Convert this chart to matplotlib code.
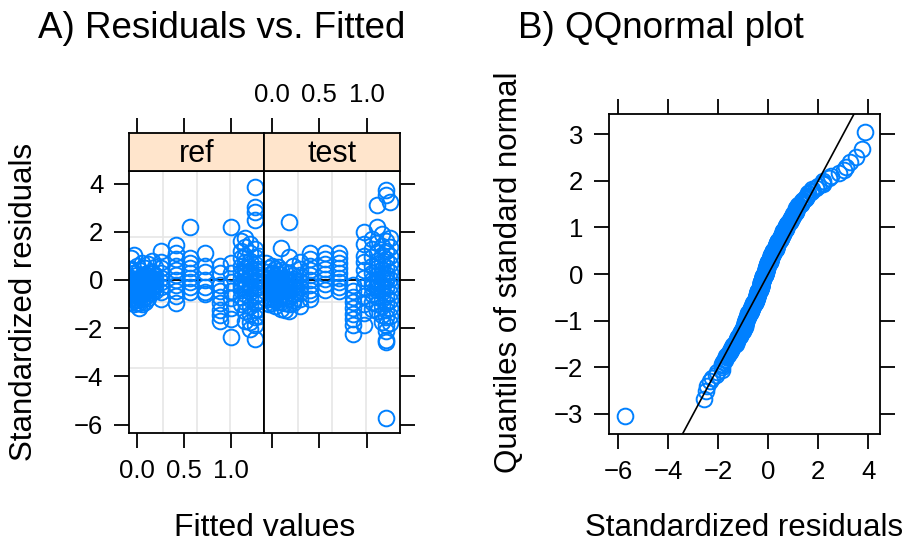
import numpy as np
import matplotlib.pyplot as plt
from statistics import NormalDist

plt.rcParams['font.family'] = ['Liberation Sans', 'DejaVu Sans']

# Fitted-value columns for each treatment and the standardized residuals found at each
ref_fitted = [-0.06, -0.03, 0.00, 0.03, 0.06, 0.09, 0.12, 0.16, 0.20,
              0.26, 0.42, 0.56, 0.72, 0.88, 1.00, 1.10, 1.15, 1.20, 1.25, 1.29]
ref_resid = [
    [0.9, 0.45, 0.1, -0.05, -0.15, -0.25, -0.35, -0.45, -0.55, -0.75, -0.9],
    [1.05, 0.3, 0.0, -0.1, -0.2, -0.3, -0.4, -0.6, -0.8, -1.0],
    [0.6, 0.2, 0.05, -0.05, -0.15, -0.25, -0.35, -0.45, -0.65, -0.85, -0.95],
    [0.4, 0.1, -0.1, -0.2, -0.3, -0.4, -0.5, -0.7, -0.95, -1.15],
    [0.7, 0.15, 0.05, -0.05, -0.2, -0.3, -0.4, -0.6, -0.8, -0.98],
    [0.5, 0.25, 0.0, -0.15, -0.3, -0.4, -0.5, -0.7, -0.9],
    [0.65, 0.3, 0.05, -0.05, -0.15, -0.25, -0.35, -0.55, -0.75],
    [0.8, 0.35, 0.1, -0.1, -0.2, -0.3, -0.4, -0.5],
    [0.55, 0.2, 0.05, -0.05, -0.15, -0.25, -0.45],
    [1.2, 0.75, 0.5, 0.3, 0.1, -0.1, -0.3, -0.5, -0.8],
    [1.45, 1.1, 0.85, 0.6, 0.4, 0.2, 0.0, -0.2, -0.45, -0.65, -0.95],
    [2.2, 0.9, 0.7, 0.5, 0.3, 0.1, -0.1, -0.3, -0.5],
    [1.1, 0.6, 0.35, 0.0, -0.3, -0.5, -0.6],
    [0.6, 0.3, -0.2, -0.45, -0.7, -0.95, -1.25, -1.45, -1.7],
    [2.19, 0.7, 0.3, -0.1, -0.45, -0.75, -1.15, -1.6, -2.35],
    [1.6, 1.2, 0.9, 0.6, 0.35, 0.1, -0.15, -0.3, -0.4, -0.7, -1.0],
    [1.75, 1.35, 1.0, 0.75, 0.5, 0.35, 0.2, -0.05, -0.15, -0.3, -0.6, -0.9, -1.3, -1.7],
    [1.5, 1.1, 0.8, 0.55, 0.3, 0.15, 0.05, -0.2, -0.35, -0.5, -0.8, -1.1, -1.4, -1.75, -2.05],
    [3.85, 3.04, 2.83, 2.49, 1.3, 0.95, 0.65, 0.4, 0.15, 0.0, -0.1, -0.35, -0.65,
     -0.95, -1.25, -1.55, -1.85, -2.46],
    [1.0, 0.7, 0.45, 0.2, -0.05, -0.3, -0.55, -0.85, -1.2, -1.5],
]

test_fitted = [-0.06, -0.03, 0.00, 0.03, 0.06, 0.10, 0.14, 0.18, 0.22,
               0.30, 0.40, 0.56, 0.71, 0.85, 0.97, 1.06, 1.11, 1.16, 1.20, 1.24]
test_resid = [
    [0.7, 0.35, 0.05, -0.1, -0.2, -0.3, -0.45, -0.7, -0.95],
    [0.5, 0.2, 0.1, -0.05, -0.15, -0.3, -0.4, -0.55, -0.8, -1.0],
    [0.6, 0.3, 0.0, -0.1, -0.25, -0.35, -0.5, -0.75, -0.97],
    [0.45, 0.15, 0.05, -0.1, -0.2, -0.35, -0.45, -0.6, -0.85, -1.1],
    [0.55, 0.25, -0.05, -0.15, -0.3, -0.4, -0.55, -0.8, -0.92],
    [1.31, 0.4, 0.1, 0.0, -0.15, -0.25, -0.4, -0.65, -0.9, -1.2],
    [0.35, 0.05, -0.05, -0.2, -0.3, -0.45, -0.7, -0.95, -1.25],
    [2.42, 0.97, 0.3, 0.0, -0.1, -0.25, -0.4, -0.5, -0.75, -1.0, -1.3],
    [0.6, 0.2, 0.05, -0.1, -0.2, -0.35, -0.6, -0.85, -0.95],
    [0.75, 0.45, 0.2, -0.05, -0.3, -0.55, -0.8, -1.08],
    [1.1, 0.85, 0.6, 0.4, 0.2, 0.0, -0.2, -0.4, -0.6, -0.8],
    [1.1, 0.85, 0.65, 0.45, 0.25, 0.05, -0.15, -0.4],
    [1.1, 0.9, 0.7, 0.5, 0.3, 0.1, -0.1, -0.3, -0.45],
    [-0.2, -0.45, -0.7, -0.9, -1.15, -1.4, -1.6, -1.85, -2.24],
    [2.0, 1.5, 1.0, 0.75, 0.4, 0.1, -0.3, -0.65, -1.0, -1.35, -1.87],
    [1.7, 1.3, 0.95, 0.6, 0.3, 0.0, -0.15, -0.3, -0.6, -0.9, -1.2],
    [3.11, 2.2, 1.55, 1.15, 0.8, 0.5, 0.2, 0.05, -0.1, -0.25, -0.4, -0.7, -1.0, -1.3],
    [1.9, 1.4, 1.05, 0.7, 0.4, 0.25, 0.1, -0.2, -0.35, -0.5, -0.8, -1.1, -1.45, -1.75],
    [3.73, 3.52, 1.6, 1.2, 0.85, 0.55, 0.25, 0.1, -0.05, -0.35, -0.65, -0.95, -1.25,
     -1.55, -1.85, -2.1, -2.5, -2.56, -5.74],
    [3.25, 1.75, 1.35, 1.0, 0.65, 0.35, 0.05, -0.25, -0.55, -0.85, -1.15, -1.5, -1.8],
]

panel_names = ['ref', 'test']
fit_ticks = [0.0, 0.5, 1.0]
fit_ticklabels = ['0.0', '0.5', '1.0']
res_ticks = [-6, -4, -2, 0, 2, 4]
qq_xticks = [-6, -4, -2, 0, 2, 4]
qq_yticks = [-3, -2, -1, 0, 1, 2, 3]

PT_COL = '#0080ff'
STRIP_COL = '#ffe5cc'
GRID_COL = '#e6e6e6'
W, H = 909, 544
LW = 1.3


def flatten(fitted, resid):
    x = np.concatenate([[f] * len(r) for f, r in zip(fitted, resid)])
    y = np.concatenate([np.asarray(r, float) for r in resid])
    return x, y


def box(x0, y0, x1, y1):
    # pixel box (top-left origin) -> figure fraction rect
    return [x0 / W, 1 - y1 / H, (x1 - x0) / W, (y1 - y0) / H]


ref_x, ref_y = flatten(ref_fitted, ref_resid)
test_x, test_y = flatten(test_fitted, test_resid)

fig = plt.figure(figsize=(9.09, 5.44), dpi=100)

tick_kw = dict(direction='out', length=10.5, width=LW, labelsize=18.5, pad=8)
mark_kw = dict(linestyle='none', marker='o', mfc='none', mec=PT_COL, ms=11.3, mew=1.4)
xlim = (-0.08, 1.35)
ylim = (-6.36, 4.52)

ax_ref = fig.add_axes(box(129, 171, 264.3, 433.3))
ax_test = fig.add_axes(box(264.3, 171, 400, 433.3))
st_ref = fig.add_axes(box(129, 132.7, 264.3, 171))
st_test = fig.add_axes(box(264.3, 132.7, 400, 171))

for ax, st, name, (px, py) in zip([ax_ref, ax_test], [st_ref, st_test], panel_names,
                                  [(ref_x, ref_y), (test_x, test_y)]):
    ax.set_xlim(*xlim)
    ax.set_ylim(*ylim)
    # quarter-spaced reference grid
    for v in np.linspace(xlim[0], xlim[1], 5)[1:-1]:
        ax.axvline(v, color=GRID_COL, lw=1.2, zorder=0)
    for h in np.linspace(ylim[0], ylim[1], 5)[1:-1]:
        ax.axhline(h, color=GRID_COL, lw=1.2, zorder=0)
    ax.axhline(0, color='black', lw=LW, zorder=1)
    ax.plot(px, py, zorder=2, **mark_kw)
    ax.set_xticks(fit_ticks)
    ax.set_xticklabels(fit_ticklabels)
    ax.set_yticks(res_ticks)
    ax.tick_params(**tick_kw)
    for s in ax.spines.values():
        s.set_linewidth(LW)

    st.set_facecolor(STRIP_COL)
    st.set_xlim(*xlim)
    st.set_ylim(0, 1)
    st.set_xticks(fit_ticks)
    st.set_xticklabels(fit_ticklabels)
    st.set_yticks([])
    st.tick_params(**tick_kw)
    st.text(0.5, 0.45, name, transform=st.transAxes, ha='center', va='center',
            fontsize=22)
    for s in st.spines.values():
        s.set_linewidth(LW)

# alternating axis annotation, lattice style
ax_ref.tick_params(axis='x', bottom=True, labelbottom=True, top=False, labeltop=False)
ax_ref.tick_params(axis='y', left=True, labelleft=True, right=False, labelright=False)
ax_test.tick_params(axis='x', bottom=True, labelbottom=False, top=False, labeltop=False)
ax_test.tick_params(axis='y', left=False, labelleft=False, right=True, labelright=False)
st_ref.tick_params(axis='x', bottom=False, labelbottom=False, top=True, labeltop=False)
st_test.tick_params(axis='x', bottom=False, labelbottom=False, top=True, labeltop=True)

# QQ normal plot of all standardized residuals
all_res = np.sort(np.concatenate([ref_y, test_y]))
n = len(all_res)
nd = NormalDist()
theo = np.array([nd.inv_cdf((i + 0.5) / n) for i in range(n)])

ax_qq = fig.add_axes(box(609, 114, 880, 434))
ax_qq.set_xlim(-6.37, 4.47)
ax_qq.set_ylim(-3.43, 3.43)
ax_qq.plot(all_res, theo, **mark_kw)
ax_qq.axline((0, 0), slope=1, color='black', lw=1.2)
ax_qq.set_xticks(qq_xticks)
ax_qq.set_yticks(qq_yticks)
ax_qq.tick_params(**tick_kw)
ax_qq.tick_params(top=True, right=True, labeltop=False, labelright=False)
for s in ax_qq.spines.values():
    s.set_linewidth(LW)

fig.text(221.7 / W, 1 - 38 / H, 'A) Residuals vs. Fitted', fontsize=26.5,
         ha='center', va='baseline')
fig.text(661 / W, 1 - 38 / H, 'B) QQnormal plot', fontsize=26.5,
         ha='center', va='baseline')
fig.text(264.5 / W, 1 - 536 / H, 'Fitted values', fontsize=23,
         ha='center', va='baseline')
fig.text(24.5 / W, 1 - 301.5 / H, 'Standardized residuals', fontsize=22.5,
         rotation=90, ha='center', va='center')
fig.text(744 / W, 1 - 536 / H, 'Standardized residuals', fontsize=22.5,
         ha='center', va='baseline')
fig.text(509 / W, 1 - 272 / H, 'Quantiles of standard normal', fontsize=22.5,
         rotation=90, ha='center', va='center')

fig.savefig('out.png', dpi=100)
